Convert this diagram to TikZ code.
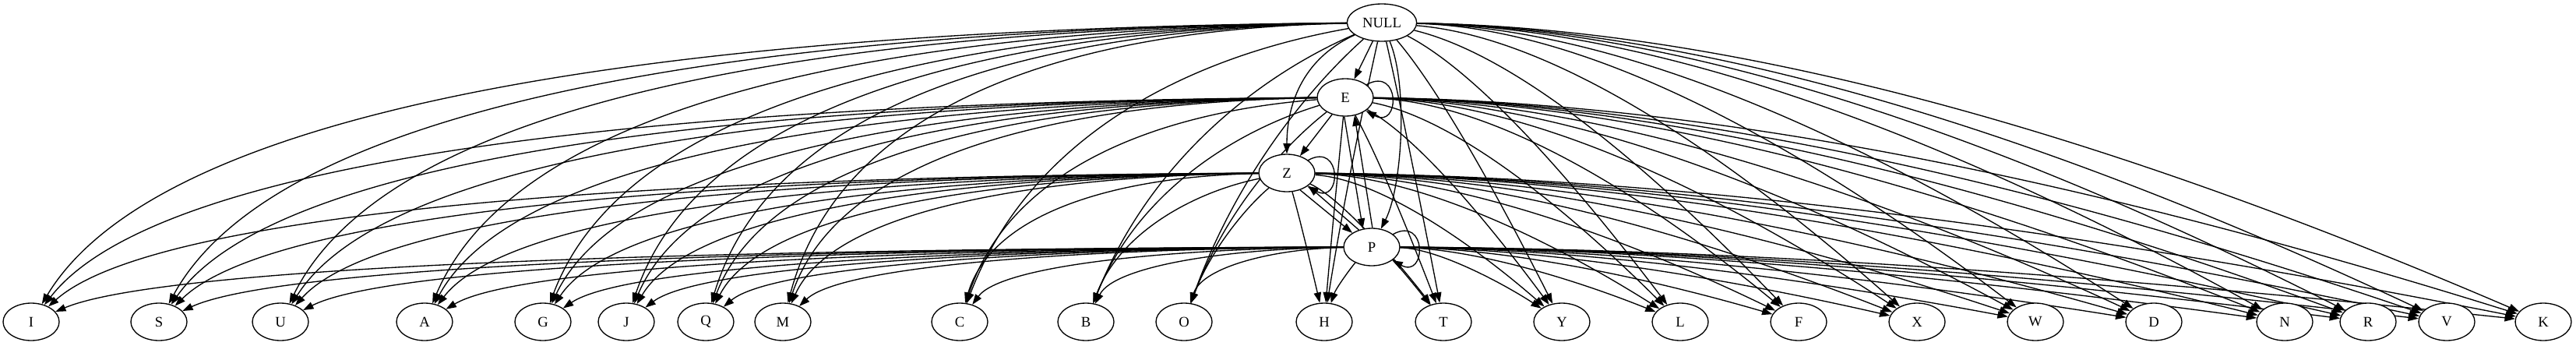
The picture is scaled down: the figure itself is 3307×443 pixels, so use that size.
\documentclass[tikz,border=0pt]{standalone}
\usepackage{fontspec}
\setmainfont{Liberation Serif}
\usetikzlibrary{shapes.geometric, arrows.meta, backgrounds}

\begin{document}
\begin{tikzpicture}[
    x=0.75pt, y=-0.75pt,
    state/.style={ellipse, draw, line width=1pt, minimum width=54pt, minimum height=36pt, inner sep=0pt, fill=white, font=\fontsize{14}{16}\selectfont},
    edge/.style={-{Triangle[length=10pt, width=7pt]}, line width=1pt},
  ]
    \useasboundingbox (0,0) rectangle (3307,443);
    \def\leaflist{I/40, S/204, U/360, A/545, G/697, J/804, Q/906, M/1005, C/1232, B/1394, O/1520, H/1700, T/1853, Y/2005, L/2157, F/2309, X/2461, W/2613, D/2765, N/2933, R/3040, V/3141, K/3265}

    % Upper ranks
    \node[state, minimum width=67pt] (NULL) at (1774, 29) {NULL};
    \node[state] (E) at (1727, 125) {E};
    \node[state] (Z) at (1652, 222) {Z};
    \node[state] (P) at (1761, 317) {P};

    % Bottom rank
    \foreach \leaf/\lx in \leaflist {
      \node[state] (\leaf) at (\lx, 413) {\leaf};
    }

    \begin{scope}[on background layer]
      % Between the upper ranks
      \draw[edge] (NULL) -- (E);
      \draw[edge] (NULL) .. controls (1662, 80) and (1652, 150) .. (Z);
      \draw[edge] (NULL) .. controls (1808, 110) and (1800, 240) .. (P);
      \draw[edge] (E) -- (Z);
      \draw[edge] (E.-93) -- (P.116);
      \draw[edge] (P.88) -- (E.-63);
      \draw[edge] (Z.-52) -- (P.144);
      \draw[edge] (P.127) -- (Z.-31);

      % Self loops
      \foreach \src in {E, Z, P} {
        \draw[edge] (\src.31) .. controls +(44, -24) and +(44, 24) .. (\src.-33);
      }

      % Every upper node to every leaf
      \foreach \src/\sx/\sy in {NULL/1774/29, E/1727/125, Z/1652/222, P/1761/317} {
        \foreach \leaf/\lx in \leaflist {
          \pgfmathsetmacro{\edx}{\lx-\sx}
          \pgfmathsetmacro{\edy}{413-\sy}
          \pgfmathsetmacro{\ew}{min(1, abs(\edx)/(2*\edy))}
          \pgfmathsetmacro{\ka}{\ew*(\edx<0 ? 0.5 : 0.35)+(1-\ew)/3}
          \pgfmathsetmacro{\kb}{\ew*0.02+(1-\ew)/3}
          \pgfmathsetmacro{\kc}{\ew*(\edx<0 ? 0.9 : 0.7)+(1-\ew)*2/3}
          \pgfmathsetmacro{\kd}{\ew*(\edx<0 ? 0.25 : 0.5)+(1-\ew)*2/3}
          \draw[edge] (\src) .. controls ({\sx+\ka*\edx}, {\sy+\kb*\edy}) and ({\sx+\kc*\edx}, {\sy+\kd*\edy}) .. (\leaf);
        }
      }
    \end{scope}

\end{tikzpicture}
\end{document}
